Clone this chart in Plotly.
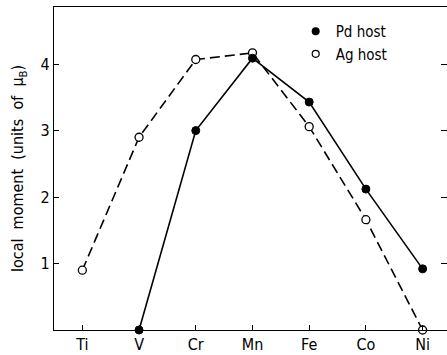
import plotly.graph_objects as go

elements = ["Ti", "V", "Cr", "Mn", "Fe", "Co", "Ni"]
pd_elements = ["V", "Cr", "Mn", "Fe", "Co", "Ni"]
pd_moment = [0.0, 3.0, 4.09, 3.43, 2.12, 0.92]
ag_elements = ["Ti", "V", "Cr", "Mn", "Fe", "Co", "Ni"]
ag_moment = [0.9, 2.9, 4.07, 4.17, 3.06, 1.66, 0.0]
y_ticks = [1, 2, 3, 4]

idx = {e: i for i, e in enumerate(elements)}
FONT = "DejaVu Sans Condensed, Liberation Sans Narrow, DejaVu Sans"

fig = go.Figure()
fig.add_trace(go.Scatter(
    x=[idx[e] for e in ag_elements], y=ag_moment, mode="lines+markers",
    line=dict(color="black", width=1.6, dash="10px,5px"),
    marker=dict(symbol="circle", size=8, color="white", line=dict(color="black", width=1.3)),
    showlegend=False, cliponaxis=False))
fig.add_trace(go.Scatter(
    x=[idx[e] for e in pd_elements], y=pd_moment, mode="lines+markers",
    line=dict(color="black", width=1.6),
    marker=dict(symbol="circle", size=8, color="black", line=dict(color="black", width=1)),
    showlegend=False, cliponaxis=False))
# legend entries
fig.add_trace(go.Scatter(x=[None], y=[None], mode="markers", name="Pd host",
    marker=dict(symbol="circle", size=8, color="black")))
fig.add_trace(go.Scatter(x=[None], y=[None], mode="markers", name="Ag host",
    marker=dict(symbol="circle", size=7, color="white", line=dict(color="black", width=1.2))))
# right-side ticks
fig.add_trace(go.Scatter(x=[None], y=[None], yaxis="y2", showlegend=False))

fig.update_layout(
    width=447, height=355,
    margin=dict(l=54, r=0, t=7, b=25),
    paper_bgcolor="white", plot_bgcolor="white",
    font=dict(family=FONT, size=15, color="black"),
    xaxis=dict(range=[-0.5, 6.43], tickvals=list(range(len(elements))), ticktext=elements,
               showgrid=False, zeroline=False, showline=True, linecolor="black", linewidth=1.3,
               mirror=True, ticks="inside", ticklen=5, tickcolor="black", tickwidth=1.2,
               tickfont=dict(size=16, family=FONT)),
    yaxis=dict(range=[0, 4.86], tickvals=y_ticks, showgrid=False, zeroline=False,
               showline=True, linecolor="black", linewidth=1.3,
               ticks="inside", ticklen=5, tickcolor="black", tickwidth=1.2,
               tickfont=dict(size=16, family=FONT),
               title=dict(text="local  moment  (units  of  μ<sub>B</sub>)",
                          font=dict(size=16, family=FONT), standoff=12)),
    yaxis2=dict(range=[0, 4.86], tickvals=y_ticks, overlaying="y", side="right",
                showgrid=False, zeroline=False, showline=False, showticklabels=False,
                ticks="inside", ticklen=6, tickcolor="black", tickwidth=1.2),
    legend=dict(x=0.615, y=0.975, xanchor="left", yanchor="top", bgcolor="rgba(0,0,0,0)",
                font=dict(size=15, family=FONT), itemwidth=30, tracegroupgap=2),
)

fig.write_html("out.html")
